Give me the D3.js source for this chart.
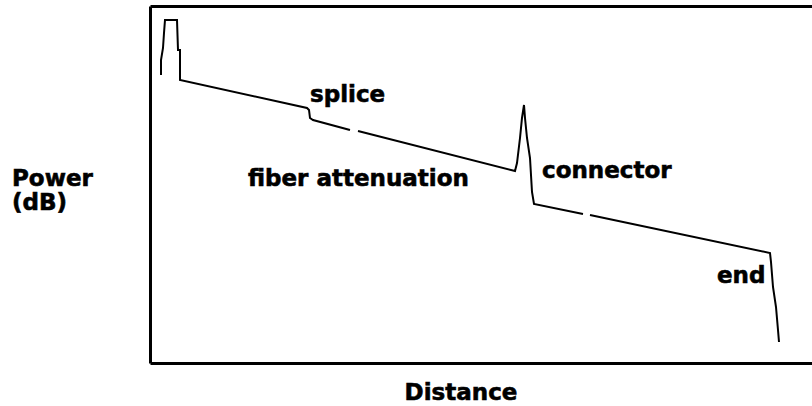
<!DOCTYPE html>
<html>
<head>
<meta charset="utf-8">
<script src="https://cdn.jsdelivr.net/npm/d3@7"></script>
<style>
  body { margin: 0; background: #fff; }
  svg { display: block; }
  .label { font-family: "DejaVu Sans", Verdana, sans-serif; font-weight: bold; font-size: 23px; fill: #000; stroke: #000; stroke-width: 0.6px; }
  .axis path { stroke: #000; stroke-width: 3; }
</style>
</head>
<body>
<svg id="chart"></svg>
<script>
// OTDR trace (arbitrary distance / power units), null = gap in trace
const distance = [11, 11, 13, 14, 15, 27, 28, 30, 30, 157, 159, 160, 163, 200, 204, 208, 365, 367, 370, 372, 374, 375, 377, 380, 382, 384, 433, 436, 440, 620, 621, 623, 626, 628, 629];
const power    = [288, 303, 315, 330, 343, 343, 313, 313, 283, 255, 253, 245, 243, 233, null, 232, 192, 200, 225, 245, 258, 245, 225, 205, 171, 159, 149, null, 148, 110, 101, 76, 56, 33, 21];

// event labels, anchored in data units
const labelText = ['splice', 'fiber attenuation', 'connector', 'end'];
const labelDist = [160, 98, 392, 567];
const labelPower = [261, 177, 185, 80];

const xTitle = 'Distance';
const yTitle = ['Power', '(dB)'];

const config = {
  width: 812,
  height: 406,
  margin: {top: 6, right: -3, bottom: 43, left: 150}
};

const svg = d3.select('#chart')
    .attr('width', config.width)
    .attr('height', config.height);

const innerW = config.width - config.margin.left - config.margin.right;
const innerH = config.height - config.margin.top - config.margin.bottom;

const xScale = d3.scaleLinear()
    .domain([0, innerW])
    .range([0, innerW]);

const yScale = d3.scaleLinear()
    .domain([0, innerH])
    .range([innerH, 0]);

const chart = svg.append('g')
    .attr('transform', `translate(${config.margin.left},${config.margin.top})`);

// frame: left, bottom and top lines only (the right side runs off the picture)
chart.append('g')
    .attr('class', 'axis')
    .call(d3.axisLeft(yScale).ticks(0).tickSizeOuter(0));

chart.append('g')
    .attr('class', 'axis')
    .attr('transform', `translate(0,${innerH})`)
    .call(d3.axisBottom(xScale).ticks(0).tickSizeOuter(0));

chart.append('g')
    .attr('class', 'axis')
    .call(d3.axisTop(xScale).ticks(0).tickSizeOuter(0));

const trace = distance.map((d, i) => ({d: d, p: power[i]}));

const line = d3.line()
    .defined(d => d.p !== null)
    .x(d => xScale(d.d))
    .y(d => yScale(d.p));

chart.append('path')
    .datum(trace)
    .attr('fill', 'none')
    .attr('stroke', '#000')
    .attr('stroke-width', 2)
    .attr('stroke-linejoin', 'miter')
    .attr('d', line);

chart.selectAll('.event')
    .data(labelText)
  .join('text')
    .attr('class', 'label event')
    .attr('x', (d, i) => xScale(labelDist[i]))
    .attr('y', (d, i) => yScale(labelPower[i]))
    .text(d => d);

// axis titles
svg.append('text')
    .attr('class', 'label')
    .attr('x', 461)
    .attr('y', 400)
    .attr('text-anchor', 'middle')
    .text(xTitle);

svg.selectAll('.ytitle')
    .data(yTitle)
  .join('text')
    .attr('class', 'label ytitle')
    .attr('x', 12)
    .attr('y', (d, i) => 186 + i * 24)
    .text(d => d);
</script>
</body>
</html>
